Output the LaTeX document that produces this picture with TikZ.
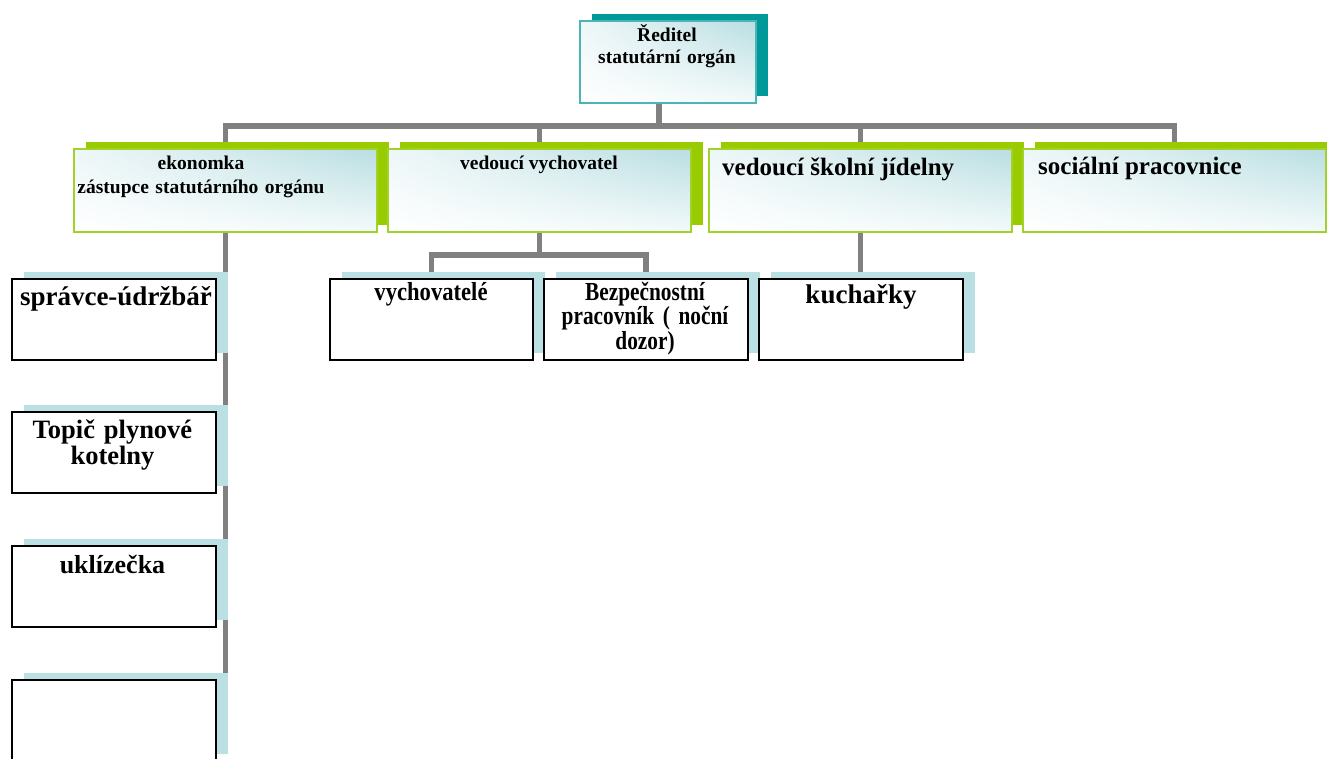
\documentclass[tikz,border=0pt]{standalone}
\usepackage{fontspec}
\setmainfont{Liberation Serif}
\newfontfamily\condfont{Liberation Serif}[FakeStretch=0.82]
\newfontfamily\condfontb{Liberation Serif}[FakeStretch=0.87]
\usetikzlibrary{calc,shadings}
\pgfdeclarelayer{conn}
\pgfdeclarelayer{shd}
\pgfsetlayers{conn,shd,main}
\definecolor{gUL}{HTML}{EEF7F8}
\definecolor{gUR}{HTML}{B9DEE2}
\definecolor{gLR}{HTML}{F3FAFA}
\definecolor{tealshadow}{HTML}{009999}
\definecolor{tealedge}{HTML}{4BB5B5}
\definecolor{greenshadow}{HTML}{99CC00}
\definecolor{greenedge}{HTML}{A2D12A}
\definecolor{blueshadow}{HTML}{BBE0E3}
\definecolor{connGray}{HTML}{808080}
\newcommand\fsz[2]{\fontsize{#1}{#2}\selectfont\bfseries}
\newcommand\boxshadow[2]{%
  \begin{pgfonlayer}{shd}
    \fill[#2] ($(#1.south west)+(11.5,-7.5)$) rectangle ($(#1.north east)+(11.5,-7.5)$);
  \end{pgfonlayer}}
\tikzset{
  box/.style={anchor=north west, inner sep=0pt, outer sep=0pt},
  gradbox/.style={box, shade, upper left=gUL, upper right=gUR, lower left=white, lower right=gLR},
  topbox/.style={gradbox, draw=tealedge, line width=2pt, minimum width=176pt, minimum height=82pt},
  greenbox/.style={gradbox, draw=greenedge, line width=2pt, minimum width=303pt, minimum height=83pt},
  whitebox/.style={box, fill=white, draw=black, line width=2.2pt, minimum height=81pt},
  conn/.style={draw=connGray, line width=5.5pt},
  lbl/.style={inner sep=0pt, align=center},
}
\begin{document}
\begin{tikzpicture}[x=1pt,y=-1pt]
\useasboundingbox (0,0) rectangle (1327,758);
\begin{pgfonlayer}{conn}
  \fill[white] (0,0) rectangle (1327,758);
\end{pgfonlayer}

% boxes
\node[topbox] (dir) at (580,21) {};
\node[greenbox] (eko) at (74,149) {};
\node[greenbox] (vv)  at (388,149) {};
\node[greenbox] (vsj) at (709,149) {};
\node[greenbox] (soc) at (1023,149) {};

\node[whitebox, minimum width=204pt] (spr) at (12,279) {};
\node[whitebox, minimum width=204pt] (top) at (12,412) {};
\node[whitebox, minimum width=204pt] (ukl) at (12,546) {};
\node[whitebox, minimum width=204pt] (emp) at (12,680) {};

\node[whitebox, minimum width=203pt] (vych) at (330,279) {};
\node[whitebox, minimum width=204pt] (bez)  at (544,279) {};
\node[whitebox, minimum width=204pt] (kuch) at (759,279) {};

% shadows
\boxshadow{dir}{tealshadow}
\foreach \n in {eko,vv,vsj,soc}{\boxshadow{\n}{greenshadow}}
\foreach \n in {spr,top,ukl,emp,vych,bez,kuch}{\boxshadow{\n}{blueshadow}}

% connectors
\coordinate (dirj) at (659,103);
\coordinate (bus) at (659,126);
\begin{pgfonlayer}{conn}
  \draw[conn] (dirj) -- (bus);
  \draw[conn] (eko.north) |- (bus);
  \draw[conn] (vv.north) |- (bus);
  \draw[conn] (vsj.north) |- (bus);
  \draw[conn] (soc.north) |- (bus);
  \draw[conn] (vv.south) -- ++(0,23) -| (vych.north);
  \draw[conn] (vv.south) -- ++(0,23) -| (bez.north);
  \draw[conn] (vsj.south) -- (vsj.south |- kuch.north);
  \draw[conn] (eko.south) |- (spr.east);
  \draw[conn] (eko.south) |- (top.east);
  \draw[conn] (eko.south) |- (ukl.east);
  \draw[conn] (eko.south) |- (emp.east);
\end{pgfonlayer}

% texts
\node[lbl, font=\fsz{19.5}{22.6}, text width=170pt, anchor=base] (dirt) at (667,41) {Ředitel\\statutární orgán};
\node[lbl, font=\fsz{19.5}{24}, text width=290pt, anchor=base] (ekot) at (201,169) {ekonomka\\zástupce statutárního orgánu};
\node[lbl, font=\fsz{19.5}{24}, anchor=base] (vvt) at (539,169) {vedoucí vychovatel};
\node[lbl, font=\fsz{25}{30}, anchor=base west] (vsjt) at (722,175) {vedoucí školní jídelny};
\node[lbl, font=\fsz{25}{30}, anchor=base west] (soct) at (1038,174) {sociální pracovnice};

\node[lbl, font=\fsz{27}{30}, anchor=base] (sprt) at (116,305) {správce-údržbář};
\node[lbl, font=\fsz{26.5}{26}, text width=200pt, anchor=base] (topt) at (112.5,438) {Topič plynové\\kotelny};
\node[lbl, font=\fsz{26}{30}, anchor=base] (uklt) at (112.5,573) {uklízečka};

\node[lbl, font={\condfontb\fsz{26}{23.5}}, anchor=base] (vycht) at (431,300) {vychovatelé};
\node[lbl, font={\condfont\fsz{26}{23.5}}, text width=200pt, anchor=base] (bezt) at (645,300) {Bezpečnostní\\pracovník ( noční\\dozor)};
\node[lbl, font=\fsz{27}{30}, anchor=base] (kucht) at (861,303) {kuchařky};
\end{tikzpicture}
\end{document}
